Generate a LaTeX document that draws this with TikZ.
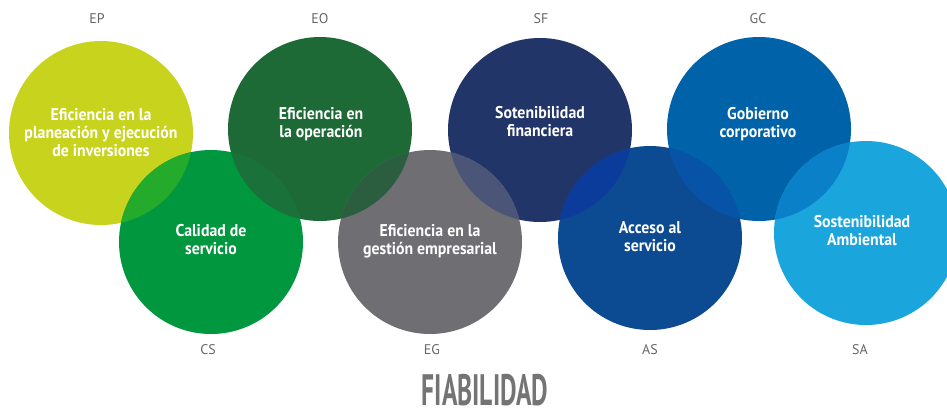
\documentclass[tikz,border=0pt]{standalone}
\usepackage{fontspec}
\setmainfont{PT Sans}
\newfontfamily\circfont{PT Sans}[FakeStretch=0.93]
\definecolor{cEP}{HTML}{C8D31E}
\definecolor{cCS}{HTML}{00973F}
\definecolor{cEO}{HTML}{1D6A37}
\definecolor{cEG}{HTML}{6F6F73}
\definecolor{cSF}{HTML}{213568}
\definecolor{cAS}{HTML}{0C4B92}
\definecolor{cGC}{HTML}{0062A9}
\definecolor{cSA}{HTML}{1BA5DD}
\definecolor{oEPCS}{HTML}{25AB2C}
\definecolor{oEOCS}{HTML}{1A7139}
\definecolor{oEOEG}{HTML}{2A5E3E}
\definecolor{oEGSF}{HTML}{4B5577}
\definecolor{oSFAS}{HTML}{0B3C9B}
\definecolor{oASGC}{HTML}{0653A8}
\definecolor{oGCSA}{HTML}{0A80C8}
\definecolor{lbl}{HTML}{666666}
\definecolor{fia}{HTML}{747474}
\begin{document}
\begin{tikzpicture}[x=1pt,y=-1pt,
  disc/.style={circle,minimum size=184pt,inner sep=0pt,draw=none},
  intext/.style={text=white,font=\circfont\bfseries\fontsize{17}{18}\selectfont,align=center,inner sep=0pt},
  code/.style={text=lbl,font=\fontsize{14}{16}\selectfont,inner sep=0pt},
  ]
\useasboundingbox (0,0) rectangle (947,410);
\clip (0,0) rectangle (947,410);
% circles
\node[disc,fill=cEP] (ep) at (101,133) {};
\node[disc,fill=cEO] (eo) at (320,129) {};
\node[disc,fill=cSF] (sf) at (540,130) {};
\node[disc,fill=cGC] (gc) at (759,129) {};
\node[disc,fill=cCS] (cs) at (211,242) {};
\node[disc,fill=cEG] (eg) at (430,242) {};
\node[disc,fill=cAS] (as) at (650,238) {};
\node[disc,fill=cSA] (sa) at (866,233) {};
% overlaps
\begin{scope}\clip (ep.center) circle (92pt); \fill[oEPCS] (cs.center) circle (92pt);\end{scope}
\begin{scope}\clip (eo.center) circle (92pt); \fill[oEOCS] (cs.center) circle (92pt);\end{scope}
\begin{scope}\clip (eo.center) circle (92pt); \fill[oEOEG] (eg.center) circle (92pt);\end{scope}
\begin{scope}\clip (sf.center) circle (92pt); \fill[oEGSF] (eg.center) circle (92pt);\end{scope}
\begin{scope}\clip (sf.center) circle (92pt); \fill[oSFAS] (as.center) circle (92pt);\end{scope}
\begin{scope}\clip (gc.center) circle (92pt); \fill[oASGC] (as.center) circle (92pt);\end{scope}
\begin{scope}\clip (gc.center) circle (92pt); \fill[oGCSA] (sa.center) circle (92pt);\end{scope}
% texts
\node[intext] (tep) at (101,133) {Eficiencia en la\\planeación y ejecución\\de inversiones};
\node[intext] (teo) at (321,124) {Eficiencia en\\la operación};
\node[intext] (tsf) at (540,122) {Sotenibilidad\\financiera};
\node[intext] (tgc) at (758,124) {Gobierno\\corporativo};
\node[intext] (tcs) at (211,240) {Calidad de\\servicio};
\node[intext] (teg) at (430,241) {Eficiencia en la\\gestión empresarial};
\node[intext] (tas) at (650,237) {Acceso al\\servicio};
\node[intext] (tsa) at (862,231) {Sostenibilidad\\Ambiental};
% codes
\node[code] (lep) at (97,19) {EP};
\node[code] (leo) at (320,19) {EO};
\node[code] (lsf) at (541,19) {SF};
\node[code] (lgc) at (758,19) {GC};
\node[code] (lcs) at (208,350) {CS};
\node[code] (leg) at (432,350) {EG};
\node[code] (las) at (650,350) {AS};
\node[code] (lsa) at (860,350) {SA};
\node[text=fia,inner sep=0pt,anchor=base] (fiab) at (485,405) {\scalebox{0.58}[1]{\bfseries\fontsize{44}{44}\selectfont FIABILIDAD}};
\end{tikzpicture}
\end{document}
